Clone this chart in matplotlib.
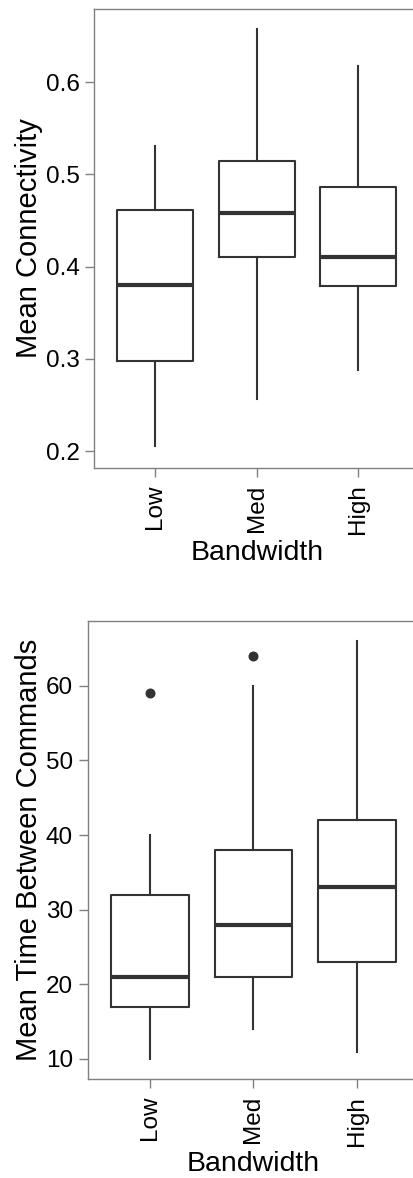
import matplotlib

matplotlib.use("Agg")

import matplotlib.pyplot as plt

plt.rcParams["font.family"] = ["Liberation Sans", "DejaVu Sans"]

categories = ["Low", "Med", "High"]

# panel 1: mean connectivity
conn_whislo = [0.205, 0.257, 0.288]
conn_q1 = [0.298, 0.410, 0.379]
conn_med = [0.380, 0.458, 0.411]
conn_q3 = [0.461, 0.515, 0.486]
conn_whishi = [0.531, 0.658, 0.618]
conn_fliers = [[], [], []]

# panel 2: mean time between commands
time_whislo = [10, 14, 11]
time_q1 = [17, 21, 23]
time_med = [21, 28, 33]
time_q3 = [32, 38, 42]
time_whishi = [40, 60, 66]
time_fliers = [[59], [64], []]

LINE = "#333333"
SPINE = "#808080"


def stats(lo, q1, med, q3, hi, fl):
    return [
        dict(whislo=a, q1=b, med=c, q3=d, whishi=e, fliers=f, label=n)
        for a, b, c, d, e, f, n in zip(lo, q1, med, q3, hi, fl, categories)
    ]


def draw(ax, st, ylabel, yticks, ylim):
    ax.bxp(
        st,
        positions=[1, 2, 3],
        widths=0.75,
        showcaps=False,
        boxprops=dict(color=LINE, linewidth=1.5),
        whiskerprops=dict(color=LINE, linewidth=1.5),
        medianprops=dict(color=LINE, linewidth=3.0),
        flierprops=dict(marker="o", markerfacecolor=LINE, markeredgecolor=LINE, markersize=6.2),
    )
    ax.set_xlim(0.4, 3.6)
    ax.set_ylim(*ylim)
    ax.set_yticks(yticks)
    ax.set_xticks([1, 2, 3])
    ax.set_xticklabels(categories, rotation=90)
    for s in ax.spines.values():
        s.set_color(SPINE)
        s.set_linewidth(1.0)
    ax.tick_params(colors=SPINE, labelcolor="black", labelsize=17.5, length=6.5, width=1.0)
    ax.tick_params(axis="y", pad=4)
    ax.tick_params(axis="x", pad=5.5)
    ax.set_ylabel(ylabel, fontsize=21, labelpad=2)
    ax.set_xlabel("Bandwidth", fontsize=20.5, labelpad=4)


fig = plt.figure(figsize=(4.14, 11.78), dpi=100)

ax1 = fig.add_axes([0.2278, 0.6030, 0.7848, 0.3894])
draw(ax1, stats(conn_whislo, conn_q1, conn_med, conn_q3, conn_whishi, conn_fliers),
     "Mean Connectivity", [0.2, 0.3, 0.4, 0.5, 0.6], (0.182, 0.6795))

ax2 = fig.add_axes([0.2118, 0.0838, 0.8007, 0.3891])
draw(ax2, stats(time_whislo, time_q1, time_med, time_q3, time_whishi, time_fliers),
     "Mean Time Between Commands", [10, 20, 30, 40, 50, 60], (7.28, 68.7))

fig.savefig("out.png", dpi=100)
